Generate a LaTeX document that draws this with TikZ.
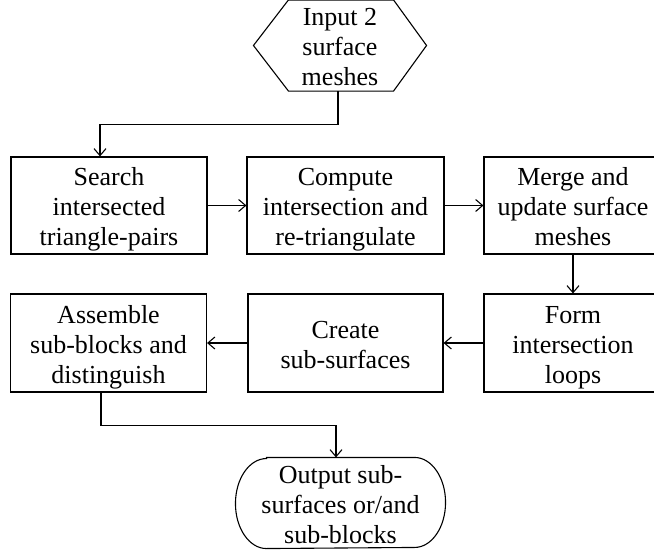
\documentclass[tikz,border=0pt]{standalone}
\usepackage{fontspec}
\setmainfont{Liberation Serif}
\usetikzlibrary{arrows.meta}
\newcommand{\boxtext}[1]{\raisebox{-4pt}[\height][\depth]{\begin{tabular}{@{}c@{}}#1\end{tabular}}}
\begin{document}
\begin{tikzpicture}[x=1pt,y=-1pt,
  line width=1.1pt,
  every node/.style={font=\fontsize{26}{30}\selectfont, inner sep=0pt},
  procbox/.style={draw, minimum height=97pt},
  ghost/.style={draw=none},
  arr/.style={-{Straight Barb[length=7pt,width=12pt,line width=1.1pt]}}]
\path[use as bounding box] (0,0) rectangle (654,554);
\clip (0,0) rectangle (654,554);
% start hexagon
\node[ghost, minimum width=172pt, minimum height=89pt] (in) at (340,45.5) {\boxtext{Input 2\\surface\\meshes}};
\draw ([xshift=35pt]in.north west) -- ([xshift=-33pt]in.north east) -- (in.east)
  -- ([xshift=-33pt]in.south east) -- ([xshift=35pt]in.south west) -- (in.west) -- cycle;
% row 1
\node[procbox, minimum width=196pt] (search) at (109,205.5) {\boxtext{Search\\intersected\\triangle-pairs}};
\node[procbox, minimum width=197pt] (compute) at (345.5,205.5) {\boxtext{Compute\\intersection and\\re-triangulate}};
\node[procbox, minimum width=178pt] (merge) at (573,205.5) {\boxtext{Merge and\\update surface\\meshes}};
% row 2
\node[procbox, minimum width=196pt, minimum height=98pt] (assemble) at (108.5,343) {\boxtext{Assemble\\sub-blocks and\\distinguish}};
\node[procbox, minimum width=195pt, minimum height=98pt] (create) at (345.5,343) {\boxtext{Create\\sub-surfaces}};
\node[procbox, minimum width=178pt, minimum height=98pt] (form) at (573,343) {\boxtext{Form\\intersection\\loops}};
% output terminal
\node[ghost, minimum width=209pt, minimum height=90pt] (out) at (340.5,503) {\boxtext{Output sub-\\surfaces or/and\\sub-blocks}};
\draw ([xshift=31pt]out.north west) -- ([xshift=-31pt]out.north east)
  arc[start angle=90, end angle=-90, x radius=31pt, y radius=45pt]
  -- ([xshift=31pt]out.south west)
  arc[start angle=270, end angle=90, x radius=31pt, y radius=45pt] -- cycle;
% connectors
\draw[arr] ([xshift=-2pt]in.south) -- ++(0,33) -| ([xshift=-9pt]search.north);
\draw[arr] (search.east) -- (compute.west);
\draw[arr] (compute.east) -- (merge.west);
\draw[arr] (merge.south) -- (form.north);
\draw[arr] (form.west) -- (create.east);
\draw[arr] (create.west) -- (assemble.east);
\draw[arr] ([xshift=-7.5pt]assemble.south) -- ++(0,33) -| ([xshift=-4.5pt]out.north);
\end{tikzpicture}
\end{document}
